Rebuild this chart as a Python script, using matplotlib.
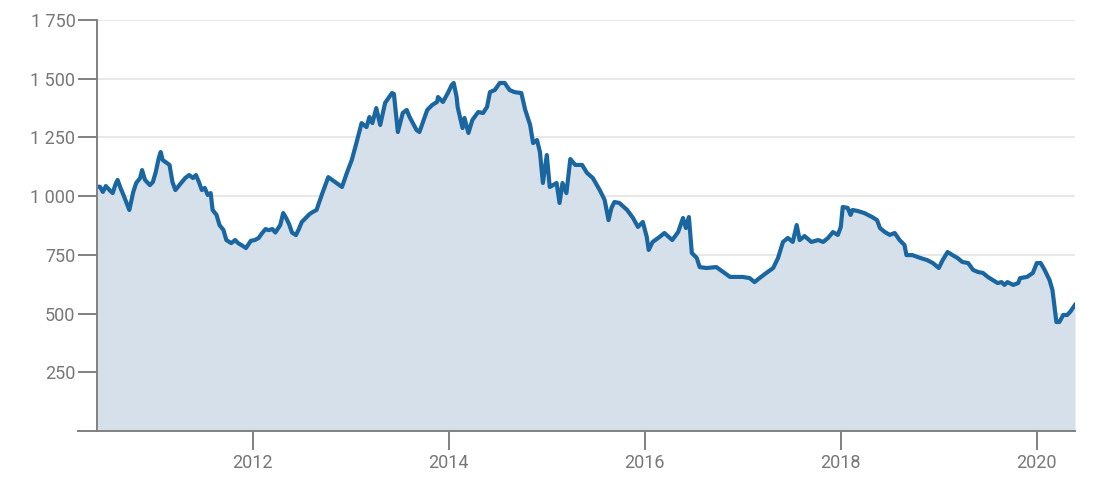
import numpy as np
import matplotlib.pyplot as plt
from matplotlib.ticker import FuncFormatter

# waarden (decimaal jaar, koers)
jaren_a = [2010.41, 2010.44, 2010.47, 2010.50, 2010.54, 2010.57, 2010.60, 2010.62, 2010.65, 2010.68,
           2010.72, 2010.74, 2010.78, 2010.81, 2010.85, 2010.87, 2010.90, 2010.95, 2010.98, 2011.01,
           2011.04, 2011.06, 2011.08, 2011.11, 2011.15, 2011.18, 2011.21, 2011.26, 2011.31, 2011.35,
           2011.39, 2011.42, 2011.45, 2011.48, 2011.51, 2011.54, 2011.57, 2011.59, 2011.63, 2011.66,
           2011.70, 2011.73, 2011.78, 2011.82, 2011.85, 2011.89, 2011.93, 2011.98, 2012.02, 2012.06,
           2012.09, 2012.13, 2012.16, 2012.20, 2012.23, 2012.28, 2012.31, 2012.34, 2012.37, 2012.40,
           2012.44, 2012.47, 2012.50, 2012.54, 2012.58, 2012.61]
koers_a = [1040, 1040, 1018, 1043, 1025, 1013, 1052, 1069, 1035, 1005,
           962, 941, 1018, 1056, 1077, 1111, 1069, 1047, 1060, 1103,
           1162, 1188, 1154, 1145, 1133, 1060, 1026, 1052, 1077, 1090,
           1077, 1090, 1060, 1026, 1035, 1005, 1013, 941, 920, 877,
           856, 813, 800, 813, 800, 790, 779, 810, 813, 822,
           840, 860, 855, 860, 845, 877, 928, 907, 881, 845,
           834, 860, 890, 907, 924, 932]

jaren_b = [2012.65, 2012.71, 2012.77, 2012.84, 2012.91, 2012.96, 2013.01, 2013.06, 2013.11, 2013.16,
           2013.19, 2013.22, 2013.26, 2013.30, 2013.35, 2013.42, 2013.44, 2013.48, 2013.53, 2013.57,
           2013.60, 2013.67, 2013.70, 2013.78, 2013.83, 2013.88, 2013.89, 2013.94, 2013.99, 2014.03,
           2014.05, 2014.08, 2014.09, 2014.14, 2014.16, 2014.20, 2014.24, 2014.30, 2014.35, 2014.39,
           2014.42, 2014.47, 2014.52, 2014.57, 2014.62, 2014.67, 2014.74, 2014.78, 2014.83, 2014.86,
           2014.90, 2014.93, 2014.96, 2015.00, 2015.03, 2015.10]
koers_b = [941, 1013, 1081, 1060, 1039, 1099, 1154, 1231, 1311, 1294,
           1337, 1311, 1375, 1303, 1397, 1439, 1435, 1273, 1354, 1367,
           1337, 1282, 1273, 1367, 1388, 1401, 1422, 1401, 1439, 1473,
           1482, 1422, 1380, 1290, 1333, 1269, 1324, 1358, 1354, 1380,
           1443, 1452, 1482, 1482, 1452, 1443, 1439, 1367, 1303, 1226,
           1239, 1188, 1056, 1175, 1039, 1056]

jaren_c = [2015.13, 2015.16, 2015.20, 2015.24, 2015.29, 2015.36, 2015.41, 2015.47, 2015.54, 2015.59,
           2015.63, 2015.66, 2015.69, 2015.74, 2015.82, 2015.88, 2015.93, 2015.98, 2016.02, 2016.04,
           2016.08, 2016.15, 2016.20, 2016.28, 2016.34, 2016.39, 2016.42, 2016.45, 2016.48, 2016.53,
           2016.56, 2016.63, 2016.73, 2016.80, 2016.87, 2016.94, 2017.00, 2017.07, 2017.12, 2017.17,
           2017.24, 2017.31, 2017.36, 2017.41, 2017.46, 2017.51, 2017.55, 2017.58]
koers_c = [971, 1056, 1013, 1158, 1133, 1133, 1099, 1077, 1026, 984,
           898, 950, 975, 971, 941, 907, 869, 890, 826, 771,
           805, 826, 843, 813, 847, 907, 864, 911, 758, 737,
           698, 694, 698, 677, 656, 656, 656, 651, 634, 651,
           673, 694, 737, 805, 822, 805, 877, 813]

jaren_d = [2017.63, 2017.70, 2017.77, 2017.82, 2017.87, 2017.92, 2017.97, 2018.00, 2018.02, 2018.07,
           2018.10, 2018.12, 2018.17, 2018.24, 2018.32, 2018.37, 2018.40, 2018.45, 2018.50, 2018.55,
           2018.60, 2018.65, 2018.67, 2018.73, 2018.81, 2018.88, 2018.94, 2019.00, 2019.04, 2019.09,
           2019.14, 2019.19, 2019.24, 2019.30, 2019.35, 2019.40, 2019.45, 2019.50, 2019.55, 2019.60,
           2019.64, 2019.67, 2019.70, 2019.76, 2019.81, 2019.83, 2019.90, 2019.96, 2020.00, 2020.04,
           2020.08, 2020.13, 2020.16, 2020.20, 2020.23, 2020.27, 2020.31, 2020.34, 2020.39]
koers_d = [830, 805, 813, 805, 822, 847, 835, 869, 954, 950,
           920, 941, 937, 928, 911, 898, 864, 847, 835, 843,
           813, 792, 749, 749, 737, 728, 715, 694, 728, 762,
           749, 737, 720, 715, 686, 677, 673, 656, 643, 630,
           634, 622, 634, 622, 630, 651, 656, 673, 715, 715,
           686, 643, 600, 464, 464, 494, 494, 507, 537]

jaren = jaren_a + jaren_b + jaren_c + jaren_d
koers = koers_a + koers_b + koers_c + koers_d

y_ticks = [250, 500, 750, 1000, 1250, 1500, 1750]
x_ticks = [2012, 2014, 2016, 2018, 2020]

grijs = '#808080'
lijn_kleur = '#1a66a0'
vul_kleur = '#d5e0ea'

plt.rcParams['font.family'] = ['Roboto', 'DejaVu Sans']

fig = plt.figure(figsize=(10.96, 5), dpi=100)
ax = fig.add_axes([97 / 1096, 69 / 500, 978 / 1096, 411 / 500])

ax.fill_between(jaren, koers, 0, color=vul_kleur, lw=0, zorder=1)
ax.plot(jaren, koers, color=lijn_kleur, lw=3.0, solid_joinstyle='round', zorder=3)

ax.set_xlim(jaren[0], jaren[-1])
ax.set_ylim(0, 1750)

ax.set_yticks(y_ticks)
ax.yaxis.set_major_formatter(FuncFormatter(lambda v, p: f'{int(v):,}'.replace(',', ' ')))
ax.set_xticks(x_ticks)
ax.set_xticklabels([str(j) for j in x_ticks])

ax.grid(axis='y', color='#e6e6e6', lw=1.3, zorder=0)
ax.set_axisbelow(True)

for s in ['top', 'right', 'bottom']:
    ax.spines[s].set_visible(False)
ax.spines['left'].set_color(grijs)
ax.spines['left'].set_linewidth(1.4)
ax.spines['left'].set_zorder(4)

# onderste as loopt door tot onder de y-ticks
ax.plot([-0.0195, 1], [0, 0], transform=ax.transAxes, color=grijs, lw=1.4, clip_on=False, zorder=4)

ax.tick_params(axis='both', colors=grijs, width=1.4, length=13.5, labelsize=13, labelcolor='#777777')
ax.tick_params(axis='y', pad=2)
ax.tick_params(axis='x', pad=3)

fig.savefig('out.png', dpi=100)
